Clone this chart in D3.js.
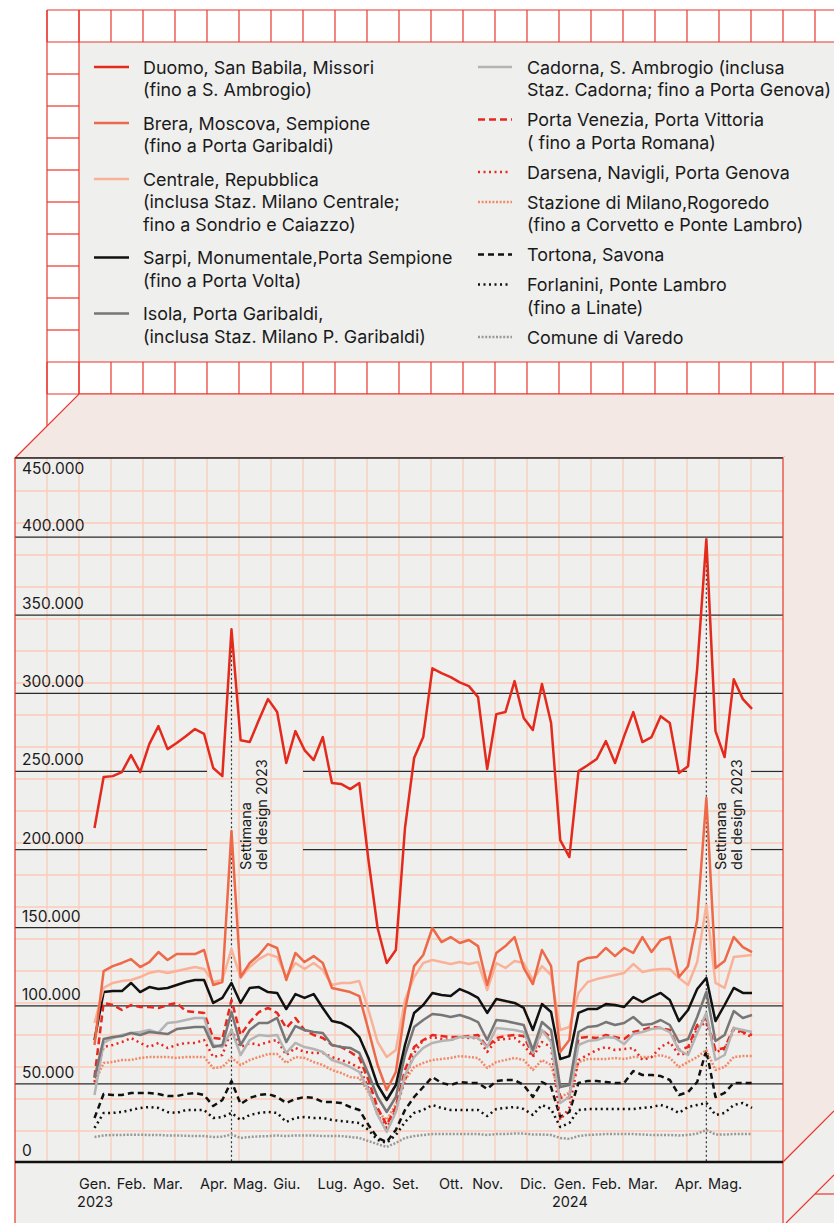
<!DOCTYPE html>
<html lang="it">
<head>
<meta charset="UTF-8">
<title>Presenze settimanali per zona di Milano</title>
<script src="https://d3js.org/d3.v7.min.js"></script>
<style>
  body { margin: 0; padding: 0; background: #fff; }
  svg { display: block; font-family: Inter, "Noto Sans", Arial, sans-serif; }
  .legend text { font-size: 17.9px; fill: #1a1a1a; }
  .ylab { font-size: 15.5px; fill: #1a1a1a; }
  .xaxis text { font-size: 14.5px; fill: #1a1a1a; }
  .note { font-size: 14.5px; fill: #1a1a1a; }
</style>
</head>
<body>
<div id="chart"></div>
<script>
// valori settimanali in migliaia di presenze, da gen. 2023 a mag. 2024 (73 settimane)
const duomo = [213.8,246.4,247,249.6,260.5,249.6,267.5,279,264.3,268.2,272.6,277.1,274,
  252.2,247, 341,
  270,268.8,282.9,296.3,288,255.4,275.8,263.7,257.3,272,242.6,242,238.7,242.6,
  193.3,149.8,127.4,135.7,213.8,258.6,272,
  316,313,310.4,307,304.6,297.6,251.5,286.7,288,307.8,284.2,276.5,306,281,
  206,195.2,
  250.2,254,258,269.4,255.4,272.6,288,268.8,272,285.4,281,249,253.4,316,
  398.7,
  275.8,259.2,309,296.3,290];
const brera = [74.9,122.2,125.4,127.4,129.9,124.8,128,134.4,129.3,133.1,133.1,133.1,135.7,
  113.3,115.2, 211.8,
  118.4,127.4,132.5,139.5,137,116.5,133.8,128,131.8,127.4,111.4,110.1,108.8,106.2,
  84.5,62.1,46.1,57.6,97.3,125.4,132.5,
  149.8,140.8,144,140.2,142.1,138.2,113.3,133.8,138.2,144,124.2,113.9,135.7,125.4,
  70.4,78.1,
  128,130.6,131.2,137,131.8,137,133.8,144,134.4,142.1,144,118.4,125.4,154.9,
  233,
  124.2,128.6,144,137.6,134.4];
const centrale = [89,111.4,114.6,115.8,116.5,118.4,121,122.2,121,122.2,123.5,124.8,123.5,
  115.2,116.5, 136.3,
  117.8,124.8,129.9,133.1,131.2,118.4,127.4,123.5,127.4,122.9,113.3,114.6,114.6,115.8,
  97.3,76.8,67.2,71.7,103.7,118.4,127.4,
  129.3,128,126.7,128,126.7,128,110.1,127.4,124.2,128.6,127.4,116.5,125.4,119.7,
  84.5,86.4,
  108.2,115.2,117.1,118.4,119.7,121,126.7,121.6,122.9,123.5,123.5,117.8,113.3,128,
  164.5,
  114.6,111.4,131.2,131.8,132.5];
const sarpi = [78.1,108.8,109.4,109.4,114.6,108.8,112,110.7,111.4,113.3,115.2,116.5,116.5,
  101.8,105, 114.6,
  101.8,111.4,112,108.8,108.2,97.9,107.5,105,107.5,98.6,90.2,89,85.8,80,
  66.6,49.3,39.7,49.3,74.9,95.4,100.5,
  108.2,106.9,106.2,110.7,108.2,105,95.4,104.3,103,101.8,98.6,84.5,101.1,96,
  65.9,67.8,
  95.4,97.9,97.9,101.1,100.5,99.2,105.6,102.4,105.6,108.2,103.7,90.2,97.3,110.7,
  117.8,
  90.2,100.5,111.4,108.2,108.2];
const isola = [53.8,78.7,80,80.6,82.6,81.3,83.2,82.6,81.9,85.1,85.8,86.4,86.4,
  73.6,74.9, 96,
  74.9,84.5,89,89,92.2,76.8,87,84.5,83.2,82.6,74.9,73.6,73,69.8,
  56.3,41.6,32,41.6,68.5,86.4,90.9,
  94.7,94.1,92.8,94.1,92.2,89.6,78.1,90.9,90.2,89,87.7,71.7,89.6,84.5,
  48,49.3,
  83.2,86.4,87,89.6,87.7,89,92.8,87.7,88.3,90.9,87.7,76.8,78.7,92.8,
  108.8,
  77.4,81.3,96.6,92.2,94.1];
const cadorna = [42.9,76.2,79.4,81.3,82.6,83.2,84.5,82.6,89,89.6,90.9,92.2,92.2,
  74.9,73.6, 84.5,
  68.5,78.1,81.3,80.6,81.3,69.8,76.2,73.6,72.3,70.4,65.3,63.4,60.8,57.6,
  46.1,30.1,19.2,32,55.7,67.2,73,
  76.2,77.4,78.1,80,80,79.4,73.6,85.8,85.1,84.5,83.2,69.8,84.5,76.8,
  37.8,41.6,
  74.9,77.4,78.1,80,79.4,75.5,81.9,83.2,85.1,85.8,83.2,71.7,68.5,82.6,
  95.4,
  65.3,68.5,85.8,84.5,83.2];
const venezia = [54.4,101.8,100.5,97.3,100.5,99.2,99.2,98.6,100.5,101.8,96.6,96,95.4,
  79.4,78.7, 103.7,
  81.3,89.6,96,98.6,95.4,85.8,92.2,84.5,81.3,79.4,74.9,73.6,70.4,66.6,
  52.5,34.6,23.7,35.2,58.9,73.6,78.1,
  81.3,80.6,80,80,80.6,81.3,73.6,79.4,80.6,81.3,80.6,68.5,84.5,79.4,
  41,41,
  79.4,80,79.4,81.3,80,78.7,83.2,84.5,86.4,85.8,84.5,71.7,73.6,87.7,
  92.2,
  71.7,73,85.8,83.2,81.3];
const darsena = [51.2,73.6,74.9,76.8,79.4,76.2,73.6,76.2,73,74.9,76.2,76.2,78.1,
  67.2,68.5, 84.5,
  73.6,76.2,74.9,76.8,78.1,68.5,73,70.4,69.8,69.8,67.2,65.3,63.4,60.2,
  47.4,30.1,21.8,33.3,52.5,69.8,78.1,
  80,78.7,78.1,80,79.4,79.4,70.4,78.1,78.7,79.4,74.9,67.2,76.8,73.6,
  26.9,34.6,
  65.3,68.5,71.7,73.6,71.7,72.3,73,65.3,67.2,73.6,76.8,68.5,69.8,85.8,
  89.6,
  70.4,72.3,84.5,82.6,80];
const rogoredo = [50.6,63.4,64,65.3,65.3,66.6,67.2,67.2,67.2,66.6,67.2,67.2,67.2,
  60.2,60.8, 66.6,
  62.1,65.3,67.2,69.1,69.1,63.4,67.2,66.6,64,62.1,58.9,57,54.4,53.8,
  44.8,32,26.9,37.1,52.5,60.8,63.4,
  65.3,65.9,66.6,67.8,67.2,66.6,60.2,64,65.3,66.6,65.3,58.9,65.3,62.1,
  41.6,44.2,
  64,65.9,65.9,65.9,66.6,65.9,67.2,67.2,67.2,68.5,66.6,60.8,64,67.2,
  71.7,
  58.9,60.8,67.2,67.8,67.8];
const tortona = [28.2,43.5,42.9,42.9,44.2,44.2,44.2,43.5,42.2,42.2,43.5,44.2,42.9,
  35.8,39.7, 51.8,
  37.1,41,42.9,43.5,41.6,37.8,40.3,41.6,41,38.4,38.4,37.8,35.2,33.3,
  23.7,15.4,12.8,20.5,33.3,41.6,48,
  54.4,50.6,49.3,51.2,50.6,50.6,46.7,51.8,52.5,52.5,49.3,41.6,51.2,48,
  28.8,32,
  50.6,51.8,51.8,51.2,50.6,50.6,58.2,55.7,55.7,55,52.5,42.9,44.8,51.2,
  71.7,
  41.6,44.2,50.6,50.6,50.6];
const forlanini = [21.8,31.4,31.4,32,33.3,34.6,35.2,34.6,32,31.4,33.3,33.3,33.3,
  28.2,28.8, 31.4,
  26.9,30.1,31.4,32,31.4,25.6,28.2,28.8,28.2,28.2,26.9,26.2,25.6,25,
  20.5,14.1,12.2,17.3,25.6,31.4,33.3,
  36.5,34.6,33.3,33.3,33.3,33.3,29.4,33.9,34.6,35.2,33.9,30.1,36.5,33.9,
  22.4,25,
  33.3,33.9,33.9,33.9,33.9,33.9,33.9,34.6,35.2,36.5,34.6,31.4,35.2,36.5,
  37.8,
  30.1,31.4,36.5,37.8,34.6];
const varedo = [16,17,17.3,17.3,17.5,17.5,17.3,17.3,17,17,16.8,16.6,16.6,
  16,16.2, 17.6,
  15.4,16,16.4,16.6,17,16.6,17,17,17,16.6,16.6,16.6,16,15.4,
  13.4,11.5,9.6,12.2,15.4,16.6,17.3,
  17.9,17.9,17.9,17.9,17.9,17.9,17.3,17.9,17.9,18.2,18.2,17.6,17.6,17.3,
  15.4,14.8,
  16.6,17.3,17.6,17.9,17.9,17.9,17.9,17.6,17.3,17.3,17.3,17,17.3,18.2,
  20.5,
  17.6,17.6,17.9,17.9,17.9];

const weeks = d3.timeMonday.range(new Date(2023, 0, 2), new Date(2024, 4, 21));

const yTicks = [0, 50, 100, 150, 200, 250, 300, 350, 400, 450];
const monthTicks = ["2023-01-02","2023-01-30","2023-02-27","2023-04-03","2023-05-01","2023-05-29",
  "2023-07-03","2023-07-31","2023-08-28","2023-10-02","2023-10-30","2023-12-04",
  "2024-01-01","2024-01-29","2024-02-26","2024-04-01","2024-04-29"];
const monthLabels = ["Gen.","Feb.","Mar.","Apr.","Mag.","Giu.","Lug.","Ago.","Set.","Ott.","Nov.","Dic.",
  "Gen.","Feb.","Mar.","Apr.","Mag."];
const yearTicks = ["2023-01-02", "2024-01-01"];
const yearLabels = ["2023", "2024"];
const designWeeks = ["2023-04-17", "2024-04-15"];

// serie: nome (righe), colonna legenda, stile
const series = [
  {data: duomo, lines: ["Duomo, San Babila, Missori", "(fino a S. Ambrogio)"], col: 0, color: "#e42a1d", w: 2.5, dash: null},
  {data: brera, lines: ["Brera, Moscova, Sempione", "(fino a Porta Garibaldi)"], col: 0, color: "#ee6948", w: 2.5, dash: null},
  {data: centrale, lines: ["Centrale, Repubblica", "(inclusa Staz. Milano Centrale;", "fino a Sondrio e Caiazzo)"], col: 0, color: "#f9b297", w: 2.5, dash: null},
  {data: sarpi, lines: ["Sarpi, Monumentale,Porta Sempione", "(fino a Porta Volta)"], col: 0, color: "#111111", w: 2.5, dash: null},
  {data: isola, lines: ["Isola, Porta Garibaldi,", "(inclusa Staz. Milano P. Garibaldi)"], col: 0, color: "#767676", w: 2.5, dash: null},
  {data: cadorna, lines: ["Cadorna, S. Ambrogio (inclusa", "Staz. Cadorna; fino a Porta Genova)"], col: 1, color: "#b4b4b4", w: 2.5, dash: null},
  {data: venezia, lines: ["Porta Venezia, Porta Vittoria", "( fino a Porta Romana)"], col: 1, color: "#e8271e", w: 2.5, dash: "7,4"},
  {data: darsena, lines: ["Darsena, Navigli, Porta Genova"], col: 1, color: "#e8271e", w: 2.5, dash: "2,3.5"},
  {data: rogoredo, lines: ["Stazione di Milano,Rogoredo", "(fino a Corvetto e Ponte Lambro)"], col: 1, color: "#f28a68", w: 2.5, dash: "2,1.6"},
  {data: tortona, lines: ["Tortona, Savona"], col: 1, color: "#111111", w: 2.5, dash: "6,4"},
  {data: forlanini, lines: ["Forlanini, Ponte Lambro", "(fino a Linate)"], col: 1, color: "#111111", w: 2.5, dash: "2,3.5"},
  {data: varedo, lines: ["Comune di Varedo"], col: 1, color: "#999999", w: 2.5, dash: "2,1.6"}
];

const W = 834, H = 1223;
const RED = "#e8362c", PINK = "#f9cdb8", FACE = "#f4e8e5", GREY = "#efefee";
const pLeft = 15, pRight = 783, pTop = 458, pBase = 1162, cell = 32;

const svg = d3.select("#chart").append("svg").attr("width", W).attr("height", H);

// ---- griglia rossa attorno alla legenda
svg.append("rect").attr("x", 79).attr("y", 42).attr("width", W - 79).attr("height", 320).attr("fill", GREY);
const grid = svg.append("g").attr("stroke", RED).attr("stroke-width", 1.2);
for (let gx = 47; gx <= W; gx += cell) {
  grid.append("line").attr("x1", gx).attr("x2", gx).attr("y1", 10).attr("y2", 42);
  grid.append("line").attr("x1", gx).attr("x2", gx).attr("y1", 362).attr("y2", 394);
}
grid.append("line").attr("x1", 47).attr("x2", 47).attr("y1", 10).attr("y2", 426);
grid.append("line").attr("x1", 79).attr("x2", 79).attr("y1", 10).attr("y2", 394);
[10, 42, 362, 394].forEach(gy => grid.append("line").attr("x1", 47).attr("x2", W).attr("y1", gy).attr("y2", gy));
for (let gy = 74; gy < 362; gy += cell) {
  grid.append("line").attr("x1", 47).attr("x2", 79).attr("y1", gy).attr("y2", gy);
}

// ---- scatola in prospettiva
const dep = W - pRight;
svg.append("polygon")
  .attr("points", [[pLeft, pTop], [79, 394], [W + 60, 394], [pRight, pTop]].join(" "))
  .attr("fill", FACE).attr("stroke", RED).attr("stroke-width", 1.2);
svg.append("polygon")
  .attr("points", [[pRight, pTop], [W, pTop - dep], [W, pBase - dep], [pRight, pBase]].join(" "))
  .attr("fill", FACE);
svg.append("polygon")
  .attr("points", [[pRight, pBase], [W, pBase - dep], [W, H], [pRight, H]].join(" "))
  .attr("fill", GREY);
svg.append("line").attr("x1", pRight).attr("y1", pBase).attr("x2", W).attr("y2", pBase - dep)
  .attr("stroke", RED).attr("stroke-width", 1.2);
svg.append("line").attr("x1", pRight + 3).attr("y1", H).attr("x2", W).attr("y2", H - (dep - 3))
  .attr("stroke", RED).attr("stroke-width", 1.2);
svg.append("line").attr("x1", pRight + 32).attr("y1", 1194).attr("x2", W).attr("y2", 1194)
  .attr("stroke", RED).attr("stroke-width", 1.2);

svg.append("rect").attr("x", pLeft).attr("y", pTop).attr("width", pRight - pLeft).attr("height", H - pTop)
  .attr("fill", GREY);

// griglia rosa del grafico
const pg = svg.append("g").attr("stroke", PINK).attr("stroke-width", 1.3);
for (let gx = 47; gx < pRight; gx += cell) {
  pg.append("line").attr("x1", gx).attr("x2", gx).attr("y1", pTop).attr("y2", pBase);
}
for (let gy = pTop + 1 + cell; gy < pBase; gy += cell) {
  pg.append("line").attr("x1", pLeft).attr("x2", pRight).attr("y1", gy).attr("y2", gy);
}

// ---- scale
const x = d3.scaleTime().domain([weeks[0], weeks[weeks.length - 1]]).range([94.5, 752]);
const y = d3.scaleLinear().domain([0, 450]).range([pBase, pTop + 1]);
const it = d3.formatLocale({decimal: ",", thousands: ".", grouping: [3], currency: ["€", ""]});
const fmt = it.format(",");
const parse = d3.timeParse("%Y-%m-%d");

// linee orizzontali nere, interrotte dietro le note
const gaps = [[207, 303], [687, 751]];
yTicks.filter(v => v > 0 && v < 450).forEach(v => {
  let segs = [[pLeft, pRight]];
  if (v === 200 || v === 250) segs = [[pLeft, gaps[0][0]], [gaps[0][1], gaps[1][0]], [gaps[1][1], pRight]];
  segs.forEach(s => {
    svg.append("line").attr("x1", s[0]).attr("x2", s[1]).attr("y1", y(v)).attr("y2", y(v))
      .attr("stroke", "#2b2b2b").attr("stroke-width", 1.2);
  });
});

// bordi della faccia frontale
svg.append("line").attr("x1", pLeft).attr("x2", pRight).attr("y1", pTop).attr("y2", pTop)
  .attr("stroke", "#222").attr("stroke-width", 1.5);
svg.append("line").attr("x1", pLeft).attr("x2", pLeft).attr("y1", pTop).attr("y2", H)
  .attr("stroke", RED).attr("stroke-width", 1.2);
svg.append("line").attr("x1", pRight).attr("x2", pRight).attr("y1", pTop).attr("y2", H)
  .attr("stroke", RED).attr("stroke-width", 1.2);

// etichette asse y
svg.append("g").selectAll("text")
  .data(yTicks)
  .join("text")
  .attr("class", "ylab")
  .attr("x", 22)
  .attr("y", d => d === 450 ? y(d) + 15 : y(d) - 6)
  .text(d => fmt(d * 1000));

// asse x: mesi e anni
const xAxisM = d3.axisBottom(x)
  .tickValues(monthTicks.map(parse))
  .tickFormat((d, i) => monthLabels[i])
  .tickSize(0).tickPadding(17);
const gm = svg.append("g").attr("class", "xaxis").attr("transform", `translate(0,${pBase})`).call(xAxisM);
const xAxisY = d3.axisBottom(x)
  .tickValues(yearTicks.map(parse))
  .tickFormat((d, i) => yearLabels[i])
  .tickSize(0).tickPadding(35);
const gyr = svg.append("g").attr("class", "xaxis").attr("transform", `translate(0,${pBase})`).call(xAxisY);
[gm, gyr].forEach(g => {
  g.attr("font-size", null).attr("font-family", null);
  g.select(".domain").remove();
});

// settimana del design
designWeeks.map(parse).forEach(d => {
  const i = weeks.findIndex(w => +w === +d);
  svg.append("line")
    .attr("x1", x(d)).attr("x2", x(d))
    .attr("y1", y(duomo[i]) + 8).attr("y2", pBase)
    .attr("stroke", "#333").attr("stroke-width", 1.2).attr("stroke-dasharray", "2,2.5");
  const t = svg.append("text").attr("class", "note")
    .attr("transform", `translate(${x(d) + 20},870) rotate(-90)`);
  t.append("tspan").attr("x", 0).attr("y", 0).text("Settimana");
  t.append("tspan").attr("x", 0).attr("y", 15.5).text("del design 2023");
});

// ---- serie
const line = d3.line()
  .x((d, i) => x(weeks[i]))
  .y(d => y(d));

const drawOrder = [11, 10, 9, 8, 7, 6, 5, 4, 3, 2, 1, 0];
svg.append("g").selectAll("path")
  .data(drawOrder.map(k => series[k]))
  .join("path")
  .attr("d", s => line(s.data))
  .attr("fill", "none")
  .attr("stroke", s => s.color)
  .attr("stroke-width", s => s.w)
  .attr("stroke-dasharray", s => s.dash)
  .attr("stroke-linejoin", "round");

// linea dello zero
svg.append("line").attr("x1", pLeft).attr("x2", pRight).attr("y1", pBase).attr("y2", pBase)
  .attr("stroke", "#111").attr("stroke-width", 2.5);

// ---- legenda
const lg = svg.append("g").attr("class", "legend");
const colX = [{x0: 94, x1: 129, tx: 143, gap: 11}, {x0: 478, x1: 512, tx: 527, gap: 7.5}];
const lh = 22.5;
[0, 1].forEach(c => {
  let cy = 67;
  series.filter(s => s.col === c).forEach(s => {
    const cx = colX[c];
    lg.append("line")
      .attr("x1", cx.x0).attr("x2", s.dash && s.dash.startsWith("2,3") ? cx.x1 - 4 : cx.x1)
      .attr("y1", cy).attr("y2", cy)
      .attr("stroke", s.color).attr("stroke-width", s.w)
      .attr("stroke-dasharray", s.dash);
    s.lines.forEach((t, k) => {
      lg.append("text").attr("x", cx.tx).attr("y", cy + 6.5 + k * lh).text(t);
    });
    cy += s.lines.length * lh + cx.gap;
  });
});
</script>
</body>
</html>
